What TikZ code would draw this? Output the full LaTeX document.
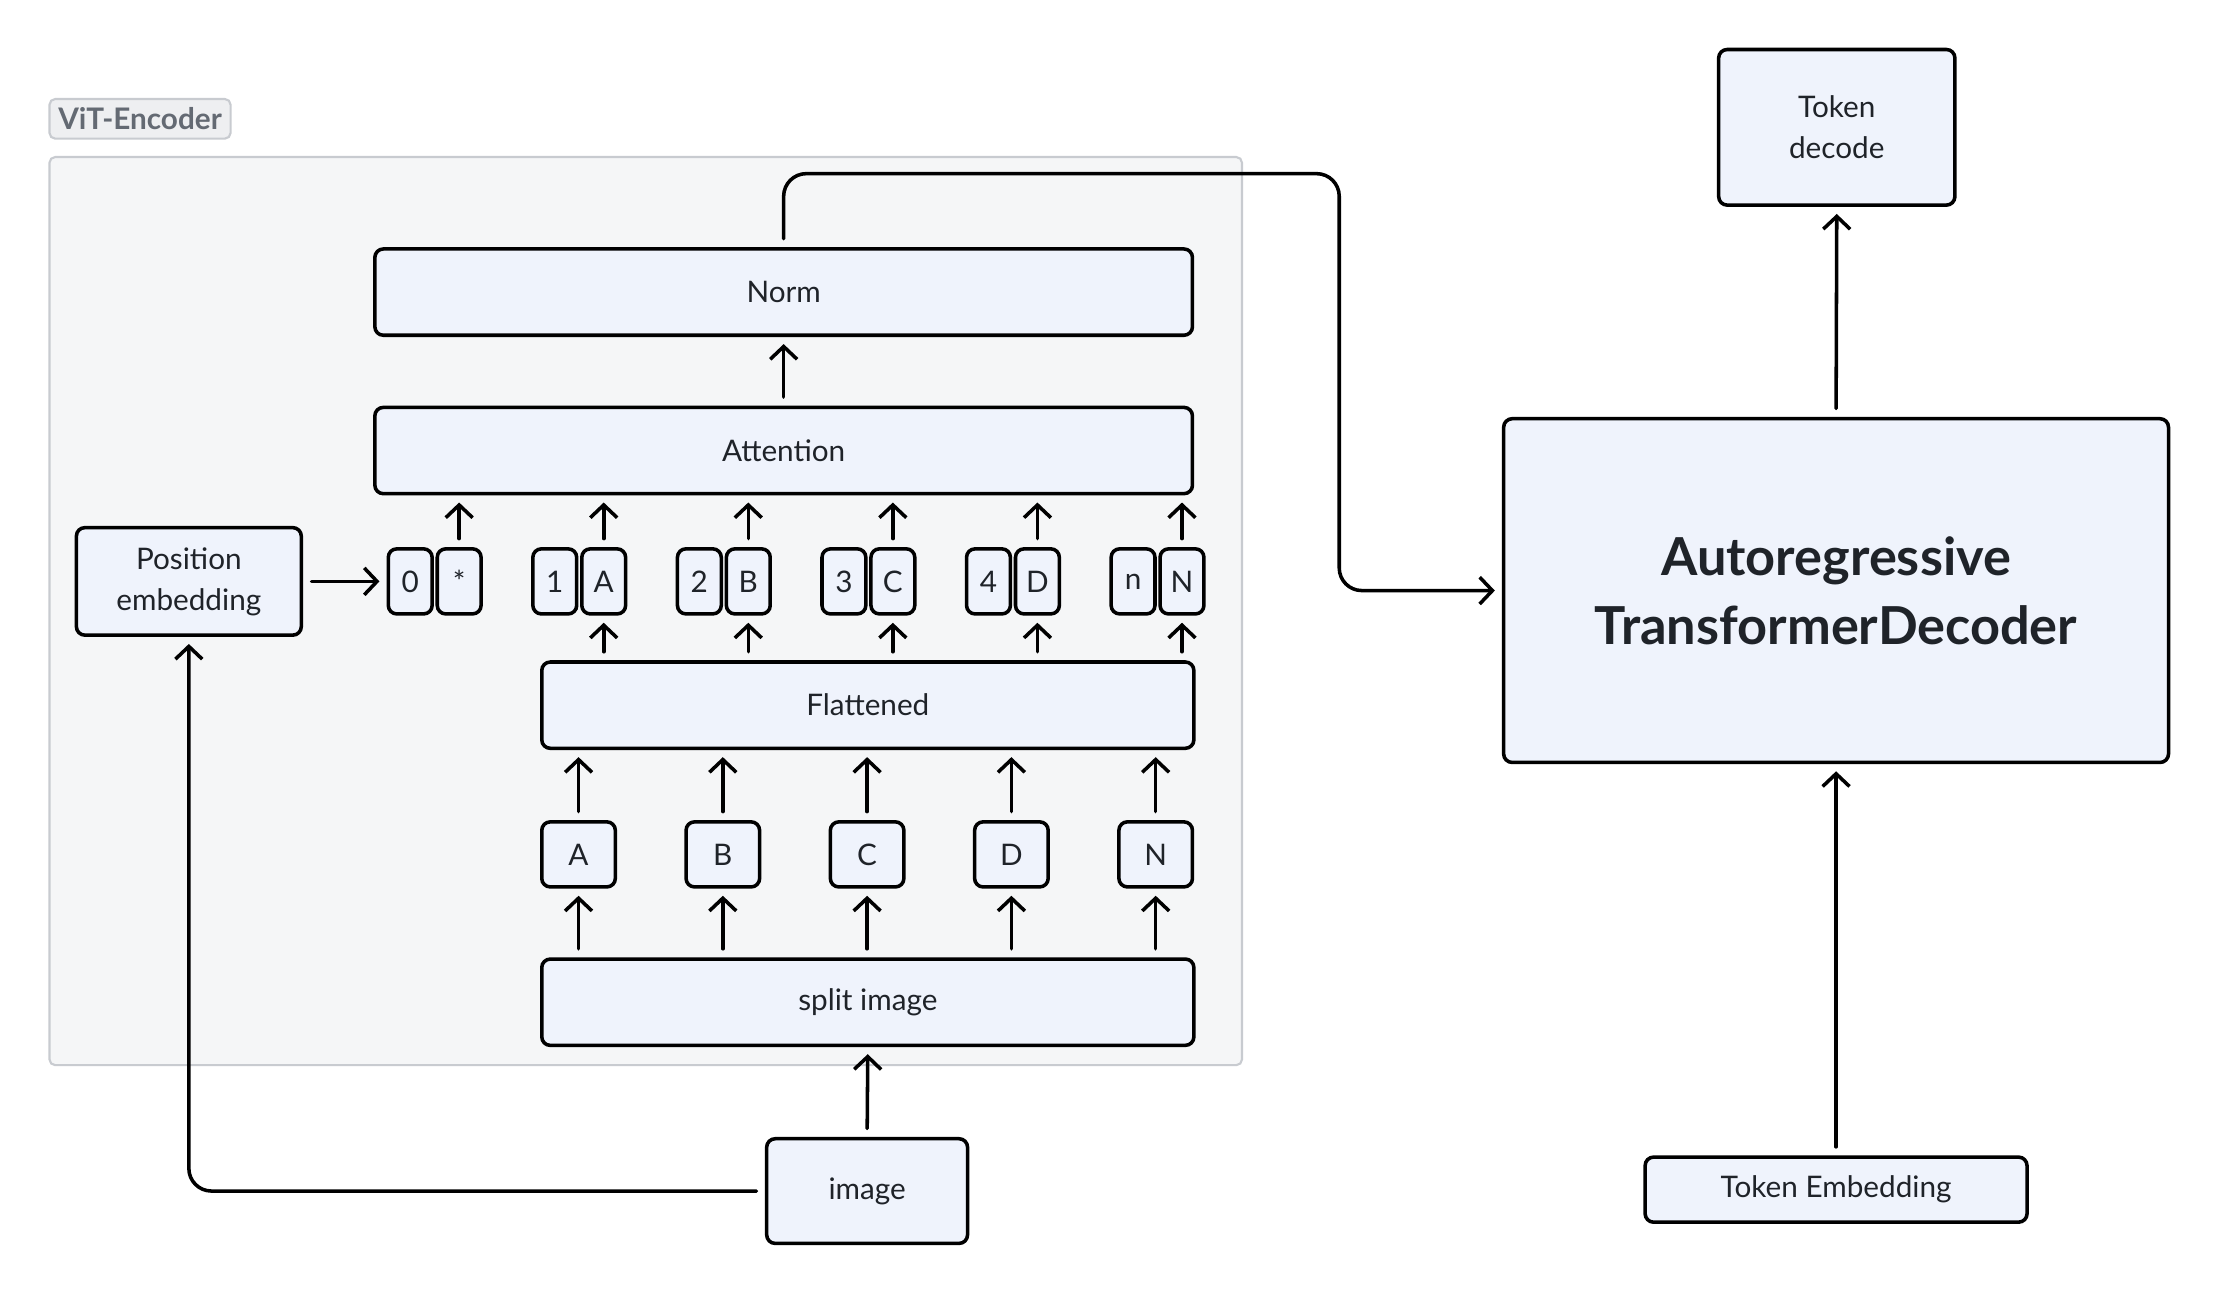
\documentclass[tikz,border=0pt]{standalone}
\usepackage{fontspec}
\setmainfont{Lato}
\usetikzlibrary{arrows.meta,calc}
\definecolor{boxfill}{HTML}{EFF3FC}
\definecolor{txt}{HTML}{1F2329}
\definecolor{encfill}{HTML}{F5F6F7}
\definecolor{encline}{HTML}{C8CBD0}
\definecolor{lblfill}{HTML}{EEEFF1}
\definecolor{lbltxt}{HTML}{646A73}
\tikzset{
  box/.style={draw=black, fill=boxfill, line width=2.5pt, rounded corners=6pt,
    text=txt, font=\fontsize{21}{29}\selectfont, align=center, inner sep=0pt},
  tok/.style={box, minimum width=31pt, minimum height=46pt},
  patch/.style={box, minimum width=52pt, minimum height=46pt},
  wide/.style={box, minimum width=461pt, minimum height=61pt},
  arr/.style={draw=black, line width=2.5pt, line cap=round, line join=round,
    -{Straight Barb[length=9pt,width=19pt]}, shorten >=5pt, shorten <=6pt},
}
\begin{document}
\begin{tikzpicture}[x=1pt,y=-1pt]
\useasboundingbox (0,0) rectangle (1568,913.4);
% encoder container
\node[draw=encline, fill=encfill, line width=1.5pt, rounded corners=4pt,
  minimum width=843pt, minimum height=642pt, inner sep=0pt] (enc) at (456.5,432) {};
\node[draw=encline, fill=lblfill, line width=1.5pt, rounded corners=4pt,
  minimum width=128pt, minimum height=28pt, inner sep=0pt, text=lbltxt,
  font=\fontsize{21}{24}\selectfont\bfseries] (vitlbl) at (99,84) {ViT-Encoder};
% main boxes
\node[box, minimum width=578pt, minimum height=61pt] (norm) at (554,206.5) {Norm};
\node[box, minimum width=578pt, minimum height=61pt] (attn) at (554,318.5) {Attention};
\node[box, minimum width=159pt, minimum height=76pt] (pe) at (133.5,411) {Position\\embedding};
\node[wide] (flat) at (613.5,498.5) {Flattened};
\node[wide] (split) at (613.5,708.5) {split image};
\node[box, minimum width=142pt, minimum height=74pt] (img) at (613,842) {image};
\node[box, minimum width=470pt, minimum height=243pt,
  font=\fontsize{37}{49}\selectfont\bfseries] (dec) at (1298,417.5) {Autoregressive\\TransformerDecoder};
\node[box, minimum width=167pt, minimum height=110pt] (tdec) at (1298.5,90) {Token\\decode};
\node[box, minimum width=270pt, minimum height=46pt] (temb) at (1298,841) {Token Embedding};
% token pairs
\foreach \i/\l/\r [count=\k from 0] in {0/0/*,1/1/A,2/2/B,3/3/C,4/4/D,5/n/N}{
  \node[tok] (l\i) at ({290+102.2*\k},411) {\l};
  \node[tok] (r\i) at ({324.6+102.2*\k},411) {\r};
  \draw[arr] (r\i.north) -- (r\i.north |- attn.south);
}
\foreach \i in {1,...,5}{
  \draw[arr] (r\i.south |- flat.north) -- (r\i.south);
}
% patches
\foreach \p/\t [count=\k from 0] in {1/A,2/B,3/C,4/D,5/N}{
  \node[patch] (p\p) at ({409+102*\k},604) {\t};
  \draw[arr] (p\p.south |- split.north) -- (p\p.south);
  \draw[arr] (p\p.north) -- (p\p.north |- flat.south);
}
% connectors
\draw[arr] (attn.north) -- (norm.south);
\draw[arr] (img.north) -- (split.south);
\draw[arr] (pe.east) -- (l0.west);
\draw[arr, rounded corners=16pt] (img.west) -| (pe.south);
\draw[arr, rounded corners=16pt] (norm.north) -- ++(0,-52) -| ($(dec.west)+(-115,0)$) -- (dec.west);
\draw[arr] (dec.north) -- (tdec.south);
\draw[arr] (temb.north) -- (dec.south);
\end{tikzpicture}
\end{document}
